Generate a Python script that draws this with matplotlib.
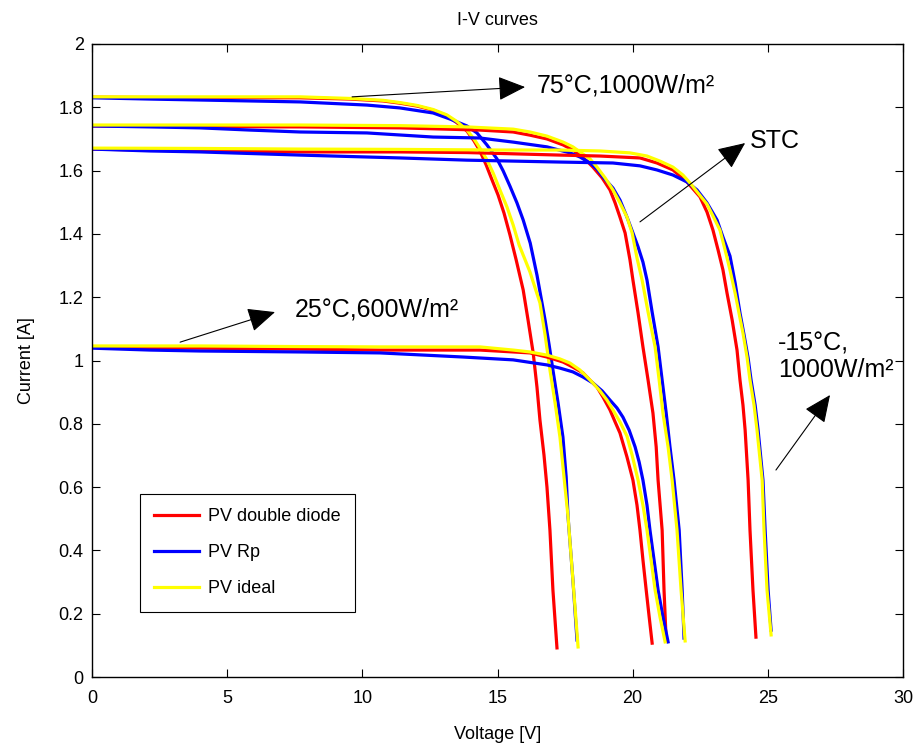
import numpy as np
import matplotlib
matplotlib.use("Agg")
import matplotlib.pyplot as plt

plt.rcParams['font.family'] = ['Liberation Sans', 'DejaVu Sans']
plt.rcParams['font.size'] = 13

# 75C, 1000 W/m2
v_75_dd = [0, 4.00, 7.70, 9.54, 10.77, 11.39, 12.02, 12.62, 13.13, 13.50, 13.87, 14.13, 14.35, 14.58, 14.80,
           15.02, 15.24, 15.46, 15.69, 15.95, 16.13, 16.32, 16.46, 16.57, 16.72, 16.83, 16.94, 17.05, 17.20]
i_75_dd = [1.832, 1.830, 1.830, 1.826, 1.820, 1.813, 1.804, 1.791, 1.773, 1.751, 1.725, 1.694, 1.662, 1.618, 1.570,
           1.523, 1.466, 1.397, 1.318, 1.223, 1.128, 1.024, 0.916, 0.812, 0.701, 0.600, 0.464, 0.275, 0.092]
v_75_rp = [0, 2.15, 4.00, 5.85, 7.70, 10.17, 11.39, 12.62, 13.24, 13.87, 14.24, 14.61, 14.98, 15.21, 15.46,
           15.72, 15.95, 16.21, 16.46, 16.76, 16.91, 17.05, 17.24, 17.42, 17.54, 17.61, 17.79, 17.94]
i_75_rp = [1.830, 1.826, 1.823, 1.820, 1.817, 1.807, 1.798, 1.782, 1.763, 1.741, 1.719, 1.681, 1.637, 1.599, 1.551,
           1.498, 1.444, 1.371, 1.270, 1.128, 1.049, 0.970, 0.866, 0.758, 0.632, 0.506, 0.306, 0.117]
v_75_id = [0, 4.00, 7.70, 9.54, 10.77, 11.39, 12.02, 12.62, 13.13, 13.50, 13.87, 14.13, 14.35, 14.61, 14.84,
           15.09, 15.35, 15.58, 15.80, 16.20, 16.57, 16.76, 16.94, 17.13, 17.31, 17.46, 17.61, 17.79, 17.98]
i_75_id = [1.833, 1.833, 1.833, 1.828, 1.822, 1.815, 1.806, 1.793, 1.776, 1.755, 1.728, 1.700, 1.671, 1.634, 1.592,
           1.539, 1.485, 1.428, 1.365, 1.280, 1.182, 1.081, 0.970, 0.866, 0.758, 0.632, 0.506, 0.306, 0.095]

# STC (25C, 1000 W/m2)
v_stc_dd = [0, 4.00, 7.70, 11.39, 14.35, 15.58, 16.20, 16.83, 17.43, 17.79, 18.05, 18.31, 18.53, 18.87, 19.16,
            19.35, 19.53, 19.72, 19.90, 20.01, 20.20, 20.38, 20.57, 20.75, 20.87, 20.94, 21.09, 21.16, 21.24]
i_stc_dd = [1.741, 1.739, 1.738, 1.735, 1.728, 1.722, 1.712, 1.700, 1.681, 1.665, 1.649, 1.630, 1.611, 1.577, 1.539,
            1.498, 1.453, 1.403, 1.318, 1.254, 1.150, 1.043, 0.938, 0.834, 0.727, 0.622, 0.464, 0.275, 0.114]
v_stc_rp = [0, 2.15, 4.00, 5.85, 7.70, 10.17, 12.62, 14.35, 15.58, 16.83, 17.68, 18.05, 18.42, 18.68, 18.90,
            19.27, 19.53, 19.79, 20.01, 20.20, 20.38, 20.53, 20.72, 20.94, 21.09, 21.24, 21.38, 21.53, 21.72,
            21.83, 21.90]
i_stc_rp = [1.741, 1.738, 1.735, 1.728, 1.722, 1.719, 1.706, 1.703, 1.690, 1.675, 1.656, 1.643, 1.624, 1.605, 1.580,
            1.545, 1.507, 1.453, 1.403, 1.359, 1.311, 1.254, 1.153, 1.043, 0.938, 0.834, 0.727, 0.622, 0.464,
            0.275, 0.123]
v_stc_id = [0, 4.00, 7.70, 11.39, 13.87, 15.58, 16.20, 16.83, 17.43, 17.79, 18.05, 18.42, 18.68, 18.98, 19.27,
            19.53, 19.79, 19.98, 20.16, 20.35, 20.57, 20.83, 20.98, 21.12, 21.31, 21.46, 21.64, 21.79, 21.94]
i_stc_id = [1.744, 1.744, 1.744, 1.742, 1.738, 1.731, 1.722, 1.709, 1.690, 1.675, 1.659, 1.637, 1.611, 1.577, 1.539,
            1.498, 1.453, 1.403, 1.324, 1.254, 1.153, 1.043, 0.938, 0.834, 0.727, 0.622, 0.464, 0.275, 0.114]

# -15C, 1000 W/m2
v_m15_dd = [0, 4.00, 7.70, 11.39, 13.87, 17.31, 18.79, 20.27, 20.90, 21.49, 22.01, 22.49, 22.75, 22.97, 23.16,
            23.34, 23.49, 23.68, 23.86, 23.97, 24.08, 24.16, 24.27, 24.34, 24.45, 24.56]
i_m15_dd = [1.668, 1.662, 1.659, 1.659, 1.657, 1.649, 1.646, 1.640, 1.624, 1.602, 1.564, 1.517, 1.469, 1.412, 1.349,
            1.286, 1.213, 1.128, 1.033, 0.938, 0.859, 0.780, 0.622, 0.464, 0.275, 0.126]
v_m15_rp = [0, 2.15, 4.00, 7.70, 11.39, 13.87, 17.31, 19.27, 20.27, 20.90, 21.49, 22.01, 22.38, 22.75, 23.12,
            23.34, 23.60, 23.79, 23.97, 24.12, 24.27, 24.38, 24.53, 24.64, 24.82, 24.90, 25.01, 25.12]
i_m15_rp = [1.668, 1.662, 1.659, 1.649, 1.640, 1.633, 1.627, 1.624, 1.615, 1.602, 1.586, 1.564, 1.539, 1.498, 1.444,
            1.390, 1.330, 1.245, 1.150, 1.081, 1.008, 0.938, 0.859, 0.780, 0.622, 0.464, 0.275, 0.148]
v_m15_id = [0, 4.00, 7.70, 11.39, 15.09, 17.31, 18.79, 19.90, 20.53, 21.01, 21.49, 21.86, 22.12, 22.42, 22.75,
            22.97, 23.23, 23.42, 23.60, 23.79, 23.97, 24.08, 24.23, 24.34, 24.49, 24.60, 24.79, 24.86, 24.97, 25.12]
i_m15_id = [1.671, 1.670, 1.668, 1.667, 1.665, 1.665, 1.662, 1.656, 1.646, 1.630, 1.611, 1.586, 1.561, 1.529, 1.494,
            1.457, 1.412, 1.349, 1.286, 1.213, 1.134, 1.087, 1.011, 0.938, 0.859, 0.780, 0.622, 0.464, 0.275, 0.133]

# 25C, 600 W/m2
v_600_dd = [0, 4.00, 7.70, 10.65, 14.35, 16.20, 16.83, 17.43, 17.79, 18.16, 18.42, 18.68, 18.90, 19.16, 19.35,
            19.53, 19.79, 20.01, 20.16, 20.27, 20.38, 20.50, 20.61, 20.72]
i_600_dd = [1.043, 1.039, 1.036, 1.033, 1.033, 1.024, 1.011, 0.995, 0.979, 0.961, 0.938, 0.916, 0.885, 0.844, 0.806,
            0.771, 0.695, 0.622, 0.543, 0.464, 0.370, 0.275, 0.190, 0.107]
v_600_rp = [0, 2.15, 4.00, 7.70, 10.65, 13.73, 15.58, 16.83, 17.31, 17.79, 18.16, 18.53, 18.87, 19.16, 19.42,
            19.64, 19.87, 20.09, 20.24, 20.38, 20.53, 20.64, 20.79, 20.94, 21.12, 21.31]
i_600_rp = [1.039, 1.033, 1.030, 1.027, 1.024, 1.011, 1.002, 0.986, 0.976, 0.964, 0.948, 0.929, 0.904, 0.875, 0.850,
            0.821, 0.780, 0.727, 0.679, 0.622, 0.543, 0.464, 0.370, 0.275, 0.190, 0.111]
v_600_id = [0, 4.00, 7.70, 10.65, 14.35, 15.58, 16.20, 16.83, 17.31, 17.68, 18.05, 18.31, 18.53, 18.79, 19.05,
            19.27, 19.53, 19.79, 19.98, 20.20, 20.38, 20.53, 20.68, 20.83, 21.01, 21.20]
i_600_id = [1.046, 1.046, 1.044, 1.043, 1.043, 1.033, 1.027, 1.017, 1.005, 0.992, 0.970, 0.948, 0.929, 0.904, 0.875,
            0.844, 0.806, 0.761, 0.701, 0.622, 0.543, 0.464, 0.370, 0.275, 0.190, 0.111]

groups = [
    (v_75_dd, i_75_dd, v_75_rp, i_75_rp, v_75_id, i_75_id),
    (v_stc_dd, i_stc_dd, v_stc_rp, i_stc_rp, v_stc_id, i_stc_id),
    (v_m15_dd, i_m15_dd, v_m15_rp, i_m15_rp, v_m15_id, i_m15_id),
    (v_600_dd, i_600_dd, v_600_rp, i_600_rp, v_600_id, i_600_id),
]

fig = plt.figure(figsize=(9.19, 7.52), dpi=100)
ax = fig.add_axes([0.1001, 0.0997, 0.8825, 0.8418])

lw = 2.3
for k, (vd, idd, vr, ir, vi, ii) in enumerate(groups):
    ax.plot(vd, idd, color='red', lw=lw, label='PV double diode' if k == 0 else None)
    ax.plot(vr, ir, color='blue', lw=lw, label='PV Rp' if k == 0 else None)
    ax.plot(vi, ii, color='yellow', lw=lw, label='PV ideal' if k == 0 else None)

ax.set_xlim(0, 30)
ax.set_ylim(0, 2)
ax.set_xticks(np.arange(0, 31, 5))
yt = np.round(np.arange(0, 2.01, 0.2), 1)
ax.set_yticks(yt)
ax.set_yticklabels(['%g' % t for t in yt])
ax.tick_params(direction='in', top=True, right=True, length=6, width=0.8, pad=6)
ax.tick_params(axis='x', pad=9)
for s in ax.spines.values():
    s.set_linewidth(1.0)

ax.set_title('I-V curves', fontsize=13, pad=14)
ax.set_xlabel('Voltage [V]', labelpad=14)
ax.set_ylabel('Current [A]', labelpad=17)

arrow = dict(arrowstyle='-|>,head_length=0.85,head_width=0.38', color='black', lw=0.8,
             shrinkA=0, shrinkB=0, mutation_scale=20)
ann = dict(va='center', ha='left', fontsize=18)
ax.annotate('', xy=(16.02, 1.864), xytext=(9.62, 1.833), arrowprops=arrow)
ax.text(16.46, 1.870, '75°C,1000W/m²', **ann)
ax.annotate('', xy=(24.16, 1.687), xytext=(20.27, 1.438), arrowprops=arrow)
ax.text(24.34, 1.694, 'STC', **ann)
ax.annotate('', xy=(6.77, 1.153), xytext=(3.26, 1.058), arrowprops=arrow)
ax.text(7.51, 1.160, '25°C,600W/m²', **ann)
ax.annotate('', xy=(27.30, 0.891), xytext=(25.30, 0.654), arrowprops=arrow)
ax.text(25.38, 1.011, '-15°C,\n1000W/m²', linespacing=1.15, **ann)

leg = ax.legend(loc='lower left', bbox_to_anchor=(0.059, 0.103), borderaxespad=0, fancybox=False,
                edgecolor='black', framealpha=1, handlelength=2.5, borderpad=0.8,
                labelspacing=1.05, handletextpad=0.45)
leg.get_frame().set_linewidth(0.8)

fig.savefig('out.png', dpi=100)
